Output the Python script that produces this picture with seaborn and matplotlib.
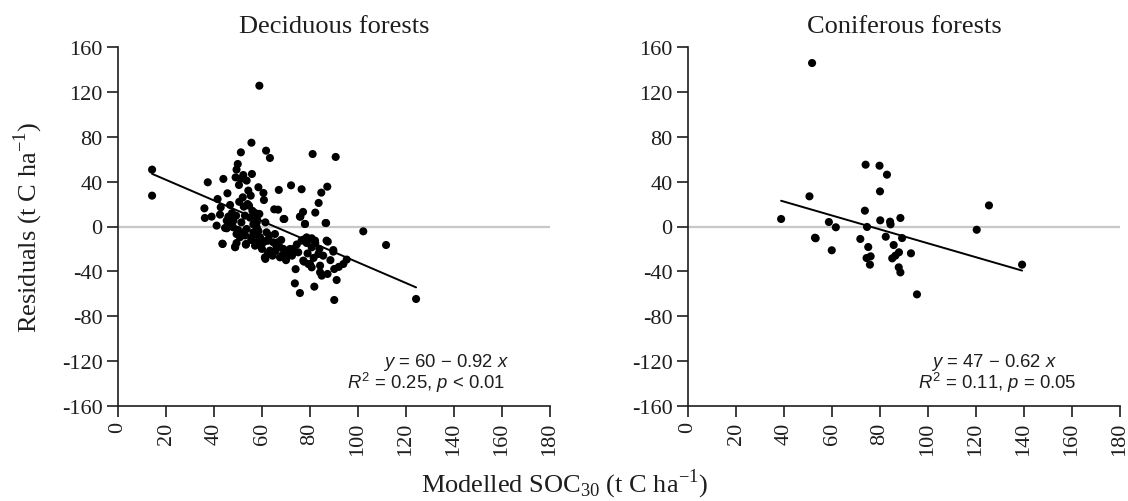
import matplotlib
matplotlib.use("Agg")
import matplotlib.pyplot as plt
import numpy as np
import pandas as pd
import seaborn as sns

# Deciduous forests: modelled SOC30 vs residuals (t C / ha)
dec_x = [58.9, 14.2, 14.2, 55.6, 51.2, 61.7, 63.3, 81.1, 90.7, 49.9,
         49.4, 52.2, 55.8, 49.0, 51.1, 53.6, 50.4, 54.3, 55.3, 37.4,
         43.9, 45.6, 41.5, 36.0, 36.2, 39.0, 42.8, 42.5, 46.7, 49.2,
         48.1, 41.1, 45.3, 58.5, 60.6, 60.8, 67.0, 72.1, 76.5, 87.2,
         84.7, 83.6, 82.2, 77.1, 76.0, 65.1, 66.7, 69.0, 77.9, 86.7,
         87.4, 52.4, 54.6, 57.1, 58.9, 51.4, 55.0, 56.4, 61.4, 61.9,
         43.5, 48.8, 49.4, 53.3, 55.8, 57.8, 59.4, 61.9, 64.7, 66.1,
         68.9, 71.0, 73.1, 77.2, 78.6, 80.7, 82.2, 83.9, 89.7, 61.4,
         64.4, 67.5, 77.5, 80.0, 84.2, 93.9, 95.3, 45.3, 50.8, 53.6,
         56.4, 59.2, 57.8, 52.9, 46.0, 44.6, 48.0, 49.4, 52.2, 57.8,
         59.2, 60.6, 62.6, 43.6, 48.8, 53.3, 57.1, 61.2, 63.3, 66.1,
         65.4, 57.8, 46.7, 69.3, 75.8, 77.9, 86.5, 102.2, 66.5, 67.5,
         68.2, 71.7, 73.0, 75.1, 76.5, 78.6, 80.7, 82.1, 83.5, 86.9,
         89.7, 77.2, 79.3, 80.7, 84.2, 84.9, 87.3, 90.1, 91.1, 73.7,
         75.8, 81.8, 90.1, 111.7, 124.2, 50.5, 52.0, 54.0, 56.0, 58.0,
         47.5, 50.0, 53.0, 55.5, 58.5, 60.0, 63.0, 65.5, 68.0, 70.5,
         72.5, 74.5, 79.0, 81.5, 85.5, 88.5, 92.0, 62.5, 70.0, 74.0]
dec_y = [125.5, 50.7, 27.5, 74.7, 66.1, 67.6, 61.1, 64.6, 62.0, 55.7,
         50.7, 45.9, 46.8, 43.8, 42.4, 40.9, 37.0, 32.0, 27.5, 39.4,
         42.4, 29.6, 24.5, 16.2, 7.6, 8.8, 17.1, 10.6, 19.2, 9.7,
         5.2, 0.8, -1.6, 35.0, 29.9, 23.6, 32.6, 36.7, 33.2, 35.5,
         30.2, 21.0, 12.4, 13.0, 8.8, 15.3, 15.0, 6.7, 2.3, 3.1,
         -13.5, 17.7, 18.6, 12.1, 11.2, 3.7, 7.9, 2.0, 3.7, -5.2,
         -15.3, -18.5, -14.7, -15.6, -9.6, -14.1, -17.1, -12.6, -14.1, -17.7,
         -20.0, -22.4, -20.0, -11.7, -14.7, -10.5, -14.7, -20.0, -22.4, -28.9,
         -26.0, -27.5, -31.3, -33.4, -34.9, -33.4, -29.5, 5.2, -9.6, -2.2,
         -5.2, -9.6, -0.7, 9.7, 8.8, -1.3, -0.7, -6.7, -5.2, -6.7,
         -11.1, -14.1, -12.6, -15.6, -18.0, -16.2, -17.1, -27.5, -21.5, -17.1,
         -6.7, 3.7, 3.7, 6.7, 8.8, 2.2, 3.1, -4.3, -14.1, -18.6,
         -26.0, -20.0, -22.1, -23.0, -12.6, -9.7, -18.6, -12.6, -24.5, -12.6,
         -21.0, -30.4, -33.4, -36.4, -40.8, -43.8, -42.3, -37.9, -47.7, -50.7,
         -59.3, -53.6, -65.5, -16.5, -64.6, 22.0, 26.0, 20.0, 14.0, 6.0,
         12.0, -3.0, -8.0, -12.0, -4.0, -20.0, -8.0, -22.0, -12.0, -25.0,
         -26.0, -16.0, -24.0, -28.0, -26.0, -30.0, -36.0, -24.0, -30.0, -38.0]

# Coniferous forests
con_x = [51.7, 38.8, 50.6, 58.7, 61.6, 52.9, 74.0, 79.8, 82.9, 80.0,
         73.7, 74.6, 80.1, 84.2, 84.4, 88.5, 53.2, 59.9, 71.8, 75.1,
         82.4, 89.2, 85.7, 92.9, 74.4, 76.1, 75.8, 85.1, 86.4, 87.9,
         87.8, 88.5, 95.4, 125.4, 120.3, 139.2]
con_y = [145.7, 6.7, 26.9, 4.0, -0.7, -10.0, 55.1, 54.2, 46.2, 31.3,
         14.1, -0.4, 5.5, 4.3, 1.9, 7.6, -10.5, -21.2, -11.1, -18.3,
         -9.1, -10.3, -16.5, -23.9, -28.1, -26.6, -34.0, -28.4, -26.0, -23.0,
         -36.4, -40.9, -60.5, 18.8, -2.9, -34.0]

# Fitted regressions (intercept, slope) and their statistics
panels = ["Deciduous forests", "Coniferous forests"]
intercepts = [60, 47]
slopes = [-0.92, -0.62]
r2_vals = ["0.25", "0.11"]
p_texts = ["< 0.01", "= 0.05"]

x_ticks = list(range(0, 181, 20))
y_ticks = list(range(-160, 161, 40))

sns.set_theme(style="white")
plt.rcParams["font.family"] = ["Liberation Serif", "DejaVu Serif"]
plt.rcParams["mathtext.fontset"] = "custom"
plt.rcParams["mathtext.rm"] = "Liberation Serif"
plt.rcParams["mathtext.it"] = "Liberation Sans:italic"
plt.rcParams["mathtext.sf"] = "Liberation Sans"

INK = "#1e1e1e"

fig = plt.figure(figsize=(11.28, 5.02), dpi=100)
ax_l = fig.add_axes([118 / 1128, 1 - 407 / 502, 432 / 1128, 359 / 502])
ax_r = fig.add_axes([688 / 1128, 1 - 407 / 502, 432 / 1128, 359 / 502])

datasets = [(dec_x, dec_y), (con_x, con_y)]
stat_pos = [((136.7, -120.5), (128.3, -139)), ((127.5, -120.5), (128.8, -139))]

for i, ax in enumerate([ax_l, ax_r]):
    xs, ys = datasets[i]
    df = pd.DataFrame({"soc": xs, "resid": ys})
    ax.axhline(0, color="#c8c8c8", lw=1.6, zorder=1)
    sns.scatterplot(data=df, x="soc", y="resid", ax=ax, color="black",
                    s=34, edgecolor="none", zorder=3)
    xr = np.array([min(xs), max(xs)])
    fit = pd.DataFrame({"soc": xr, "resid": intercepts[i] + slopes[i] * xr})
    sns.lineplot(data=fit, x="soc", y="resid", ax=ax, color="black",
                 lw=1.4, zorder=4)

    ax.set_xlim(0, 180)
    ax.set_ylim(-160, 160)
    ax.set_xticks(x_ticks)
    ax.set_yticks(y_ticks)
    ax.set_xticklabels([str(t) for t in x_ticks], rotation=90)
    ax.set_yticklabels([str(t) for t in y_ticks])
    ax.tick_params(axis="both", direction="out", length=8, width=1.2,
                   color=INK, labelsize=16, labelcolor=INK, pad=3,
                   bottom=True, left=True)
    for side in ["top", "right"]:
        ax.spines[side].set_visible(False)
    for side in ["left", "bottom"]:
        ax.spines[side].set_color(INK)
        ax.spines[side].set_linewidth(1.2)
    ax.set_xlabel("")
    ax.set_ylabel("")
    ax.set_title(panels[i], fontsize=19, pad=11, color=INK)

    b = abs(slopes[i])
    (ex, ey), (rx, ry) = stat_pos[i]
    ax.text(ex, ey, r"$\mathit{y}$ = %d − %.2f $\mathit{x}$" % (intercepts[i], b),
            family=["Liberation Sans", "DejaVu Sans"], fontsize=13.3,
            ha="center", va="center", color=INK)
    ax.text(rx, ry, r"$\mathit{R}^{\mathsf{2}}$ = %s, $\mathit{p}$ %s" % (r2_vals[i], p_texts[i]),
            family=["Liberation Sans", "DejaVu Sans"], fontsize=13.3,
            ha="center", va="center", color=INK)

ax_l.set_ylabel(r"Residuals (t C ha$^{-1}$)", fontsize=19, color=INK)
ax_l.yaxis.set_label_coords(-0.17, 0.5)

fig.text(0.5, 1 - 485 / 502, r"Modelled SOC$_{30}$ (t C ha$^{-1}$)",
         ha="center", va="center", fontsize=19, color=INK)

fig.savefig("out.png", dpi=100, facecolor="white")
